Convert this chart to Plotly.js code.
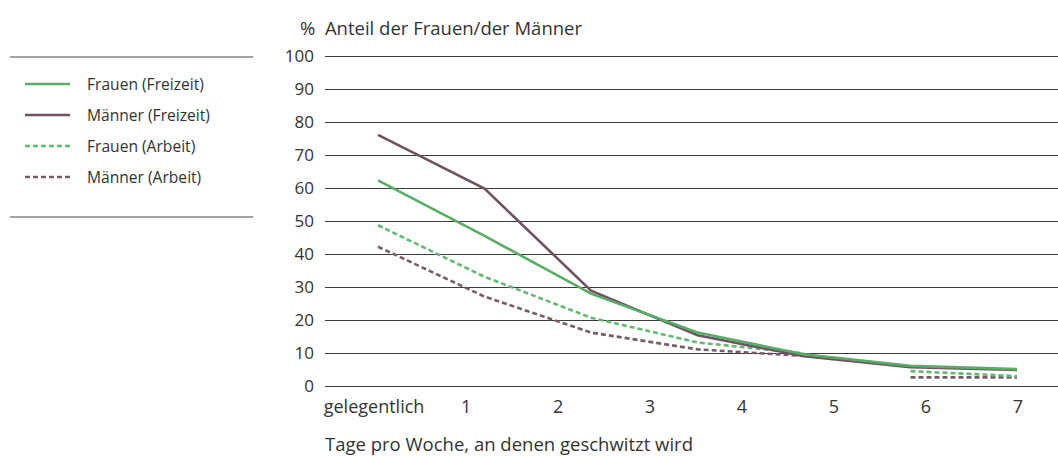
<!DOCTYPE html>
<html>
<head>
<meta charset="utf-8">
<script src="https://cdn.plot.ly/plotly-3.0.1.min.js"></script>
<style>html,body{margin:0;padding:0;background:#fff}#chart{width:1058px;height:456px}</style>
</head>
<body>
<div id="chart"></div>
<script>
// ---- data ----
const xLabels = ["gelegentlich", "1", "2", "3", "4", "5", "6", "7"];
const seriesNames = ["Frauen (Freizeit)", "Männer (Freizeit)", "Frauen (Arbeit)", "Männer (Arbeit)"];
const frauenFreizeit = [62.3, 45.5, 28.0, 16.2, 9.6, 6.1, 5.1];
const maennerFreizeit = [76.1, 59.8, 28.9, 15.4, 9.0, 5.7, 4.9];
const frauenArbeit = [48.7, 33.1, 20.7, 13.2, 9.9, 4.5, 3.0];
const maennerArbeit = [42.2, 27.1, 16.2, 11.1, 9.1, 2.6, 2.6];
const arbeitFirstSegment = 5; // Arbeit lines are broken after the 5th point
const yTicks = [0, 10, 20, 30, 40, 50, 60, 70, 80, 90, 100];
const yTitle = "%  Anteil der Frauen/der Männer";
const xTitle = "Tage pro Woche, an denen geschwitzt wird";

// ---- styling ----
const W = 1058, H = 456;
const GREEN = "#57ad64", GREEN_D = "#62b96f", PURPLE = "#715265", PURPLE_D = "#7a5b6e";
const FONT = "Open Sans, Noto Sans, sans-serif";
const TXT = "#333333";
const px = v => v / W;
const py = v => (H - v) / H;

const idx = arr => arr.map((_, i) => i);

const styles = [
  {color: GREEN, dash: "solid"},
  {color: PURPLE, dash: "solid"},
  {color: GREEN_D, dash: "5px,3px"},
  {color: PURPLE_D, dash: "5px,3px"}
];

function seg(name, vals, st, from, to) {
  const xs = idx(vals).slice(from, to);
  return {
    type: "scatter", mode: "lines", name: name, xaxis: "x2", yaxis: "y",
    x: xs, y: vals.slice(from, to),
    line: {color: st.color, width: 2.6, dash: st.dash},
    showlegend: false, hoverinfo: "x+y+name"
  };
}

// anchor trace for the labelled category axis (no visible marks)
const labelAxisTrace = {
  type: "scatter", mode: "lines", xaxis: "x", yaxis: "y",
  x: idx(xLabels), y: xLabels.map(() => null),
  showlegend: false, hoverinfo: "skip"
};

const traces = [
  labelAxisTrace,
  seg(seriesNames[3], maennerArbeit, styles[3], 0, arbeitFirstSegment),
  seg(seriesNames[3], maennerArbeit, styles[3], arbeitFirstSegment, maennerArbeit.length),
  seg(seriesNames[2], frauenArbeit, styles[2], 0, arbeitFirstSegment),
  seg(seriesNames[2], frauenArbeit, styles[2], arbeitFirstSegment, frauenArbeit.length),
  seg(seriesNames[1], maennerFreizeit, styles[1], 0, maennerFreizeit.length),
  seg(seriesNames[0], frauenFreizeit, styles[0], 0, frauenFreizeit.length)
];

// legend (custom, drawn as shapes + annotations)
const legendRows = [84, 115, 146, 177];
const shapes = [
  {type: "line", xref: "paper", yref: "paper", x0: px(10), x1: px(253), y0: py(57), y1: py(57), line: {color: "#444", width: 1}},
  {type: "line", xref: "paper", yref: "paper", x0: px(10), x1: px(253), y0: py(217), y1: py(217), line: {color: "#444", width: 1}}
];
const annotations = [];
seriesNames.forEach((n, i) => {
  shapes.push({type: "line", xref: "paper", yref: "paper", x0: px(25), x1: px(70), y0: py(legendRows[i]), y1: py(legendRows[i]),
    line: {color: styles[i].color, width: 2.6, dash: styles[i].dash}});
  annotations.push({xref: "paper", yref: "paper", x: px(85), y: py(legendRows[i]), xanchor: "left", yanchor: "middle",
    text: n, showarrow: false, font: {family: FONT, size: 15.6, color: TXT}});
});
annotations.push({xref: "paper", yref: "paper", x: px(298), y: py(27), xanchor: "left", yanchor: "middle",
  text: yTitle, showarrow: false, font: {family: FONT, size: 18.5, color: TXT}});
annotations.push({xref: "paper", yref: "paper", x: px(323), y: py(443), xanchor: "left", yanchor: "middle",
  text: xTitle, showarrow: false, font: {family: FONT, size: 18.5, color: TXT}});

const pad = 0.5;
const layout = {
  width: W, height: H,
  margin: {l: 0, r: 0, t: 0, b: 0, pad: 0},
  paper_bgcolor: "#fff", plot_bgcolor: "#fff",
  showlegend: false,
  font: {family: FONT, color: TXT},
  xaxis: {
    domain: [px(325), 1], range: [-0.533, 7.435], type: "linear",
    tickvals: idx(xLabels), ticktext: xLabels,
    showgrid: false, zeroline: false, showline: false, ticks: "",
    tickfont: {family: FONT, size: 18, color: TXT}, ticklabelstandoff: 6,
    fixedrange: true
  },
  xaxis2: {
    domain: [px(325), 1], range: [-0.498, 6.385], overlaying: "x", anchor: "y",
    visible: false, showgrid: false, zeroline: false, fixedrange: true
  },
  yaxis: {
    domain: [py(386 + 3.3 * pad), py(56 - 3.3 * pad)], range: [-pad, 100 + pad],
    tickvals: yTicks,
    showgrid: true, gridcolor: "#3c3c3c", gridwidth: 1,
    zeroline: false, showline: false, ticks: "",
    tickfont: {family: FONT, size: 17, color: TXT}, ticklabelstandoff: 10,
    fixedrange: true
  },
  shapes: shapes,
  annotations: annotations
};

Plotly.newPlot("chart", traces, layout, {displayModeBar: false, staticPlot: true});
</script>
</body>
</html>
